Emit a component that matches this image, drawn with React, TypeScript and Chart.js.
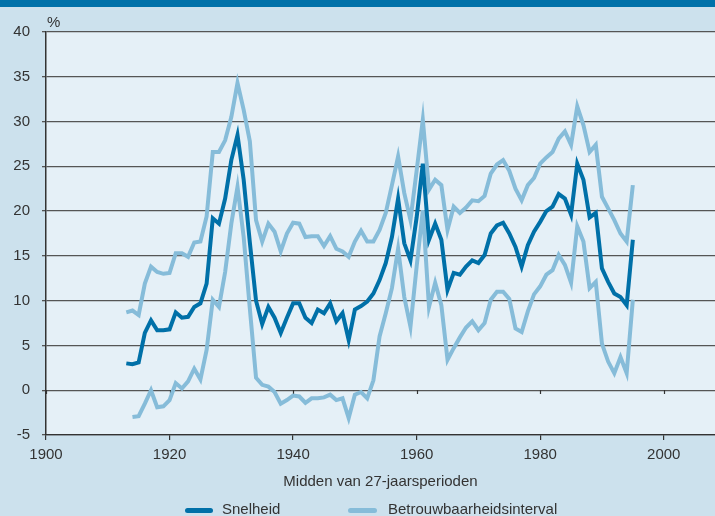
import React, { useEffect, useRef } from 'react';
import { Chart, registerables } from 'chart.js';

Chart.register(...registerables);

// ---- Data ----
const FIRST_YEAR = 1913;
const LAST_YEAR = 1995;
const YEARS: number[] = Array.from({ length: LAST_YEAR - FIRST_YEAR + 1 }, (_, i) => FIRST_YEAR + i);

// Snelheid, 1913..1995
const SNELHEID: number[] = [
  3.0, 2.9, 3.1, 6.4, 7.8, 6.7, 6.7, 6.8, 8.7, 8.1,
  8.2, 9.3, 9.7, 11.9, 19.2, 18.6, 21.4, 25.7, 28.5, 23.5,
  16.5, 10.0, 7.4, 9.3, 8.1, 6.4, 8.1, 9.7, 9.7, 8.1,
  7.5, 9.0, 8.6, 9.7, 7.7, 8.6, 5.6, 9.0, 9.4, 9.9,
  10.8, 12.3, 14.2, 17.1, 21.4, 16.4, 14.5, 19.3, 25.3, 16.8,
  18.6, 16.8, 11.2, 13.1, 12.9, 13.8, 14.5, 14.2, 15.1, 17.5,
  18.4, 18.7, 17.5, 16.0, 13.8, 16.2, 17.7, 18.8, 20.0, 20.5,
  21.9, 21.4, 19.6, 25.3, 23.5, 19.3, 19.8, 13.6, 12.1, 10.8,
  10.4, 9.5, 16.8,
];

// Upper bound of the interval, 1913..1995
const UPPER: number[] = [
  8.7, 8.9, 8.4, 11.9, 13.8, 13.2, 13.0, 13.1, 15.3, 15.3,
  14.9, 16.5, 16.6, 19.4, 26.6, 26.6, 27.9, 30.5, 34.3, 31.3,
  27.8, 19.0, 16.6, 18.6, 17.7, 15.5, 17.5, 18.7, 18.6, 17.1,
  17.2, 17.2, 16.1, 17.2, 15.8, 15.5, 14.9, 16.6, 17.8, 16.6,
  16.6, 17.9, 19.8, 22.9, 26.1, 22.0, 19.0, 24.5, 30.2, 22.4,
  23.5, 22.9, 17.9, 20.5, 19.8, 20.4, 21.2, 21.1, 21.7, 24.2,
  25.2, 25.7, 24.5, 22.5, 21.2, 22.9, 23.7, 25.3, 26.0, 26.6,
  28.1, 28.9, 27.4, 31.7, 29.6, 26.6, 27.4, 21.6, 20.3, 19.0,
  17.5, 16.6, 22.9,
];

// Lower bound of the interval, 1913 (none) then 1914..1995
const LOWER: (number | null)[] = [
  null, -3.0, -2.9, -1.5, 0.0, -1.9, -1.8, -1.1, 0.8, 0.2,
  1.0, 2.4, 1.2, 4.5, 10.1, 9.3, 13.2, 18.6, 22.7, 17.1,
  9.1, 1.4, 0.6, 0.4, -0.2, -1.5, -1.1, -0.6, -0.7, -1.4,
  -0.9, -0.9, -0.8, -0.5, -1.1, -0.9, -3.1, -0.5, -0.2, -0.9,
  1.1, 6.0, 8.6, 11.4, 15.8, 10.4, 7.1, 13.8, 20.1, 9.3,
  12.0, 9.5, 3.4, 4.7, 5.9, 7.0, 7.7, 6.7, 7.5, 10.1,
  11.0, 11.0, 10.2, 6.9, 6.5, 8.8, 10.7, 11.6, 12.9, 13.4,
  15.1, 14.0, 12.0, 18.3, 16.6, 11.4, 12.1, 5.2, 3.2, 1.9,
  3.7, 1.9, 10.1,
];

const X_TICKS: number[] = [1900, 1920, 1940, 1960, 1980, 2000];

const SERIES_LABEL = 'Snelheid';
const BAND_LABEL = 'Betrouwbaarheidsinterval';
const X_TITLE = 'Midden van 27-jaarsperioden';
const Y_UNIT = '%';

// ---- Styles ----
const DARK = '#0070a8';
const LIGHT = '#86bcd9';
const OUTER_BG = '#cce1ed';
const PLOT_BG = '#e5f0f7';
const TOP_BAND = '#0071a9';
const TEXT = '#333333';
const GRID = '#555555';
const FONT = "'Liberation Sans', Arial, sans-serif";

const toPoints = (vals: (number | null)[]) =>
  YEARS.map((yr, i) => ({ x: yr, y: vals[i] }));

export default function App() {
  const ref = useRef<HTMLCanvasElement | null>(null);

  useEffect(() => {
    if (!ref.current) return;

    const decor = {
      id: 'decor',
      beforeDraw(chart: any) {
        const { ctx, width, height, chartArea: a } = chart;
        ctx.save();
        ctx.fillStyle = OUTER_BG;
        ctx.fillRect(0, 0, width, height);
        ctx.fillStyle = TOP_BAND;
        ctx.fillRect(0, 0, width, 7);
        ctx.fillStyle = PLOT_BG;
        ctx.fillRect(a.left, a.top, a.right - a.left, a.bottom - a.top);
        ctx.restore();
      },
      beforeDatasetsDraw(chart: any) {
        const { ctx, chartArea: a, scales } = chart;
        const x = scales.x;
        const y = scales.y;
        ctx.save();
        const y0 = Math.round(y.getPixelForValue(0));
        ctx.strokeStyle = TEXT;
        ctx.lineWidth = 1.2;
        X_TICKS.forEach((t) => {
          const px = Math.round(x.getPixelForValue(t)) + 0.5;
          ctx.beginPath();
          ctx.moveTo(px, y0);
          ctx.lineTo(px, y0 + 4);
          ctx.stroke();
        });
        ctx.font = `15px ${FONT}`;
        ctx.fillStyle = TEXT;
        ctx.textBaseline = 'alphabetic';
        ctx.textAlign = 'left';
        ctx.fillText(Y_UNIT, a.left + 1, 27);
        ctx.restore();
      },
    };

    const chart = new Chart(ref.current, {
      type: 'line',
      data: {
        datasets: [
          {
            label: SERIES_LABEL,
            data: toPoints(SNELHEID),
            borderColor: DARK,
            borderWidth: 4,
            pointRadius: 0,
            tension: 0,
            order: 0,
          },
          {
            label: BAND_LABEL,
            data: toPoints(UPPER),
            borderColor: LIGHT,
            borderWidth: 4,
            pointRadius: 0,
            tension: 0,
            order: 1,
          },
          {
            label: BAND_LABEL,
            data: toPoints(LOWER),
            borderColor: LIGHT,
            borderWidth: 4,
            pointRadius: 0,
            tension: 0,
            spanGaps: false,
            order: 2,
          },
        ],
      },
      options: {
        animation: false,
        responsive: false,
        maintainAspectRatio: false,
        layout: { padding: { top: 32, left: 0, right: 0, bottom: 25 } },
        plugins: {
          legend: { display: false },
          tooltip: { enabled: false },
        },
        scales: {
          x: {
            type: 'linear',
            min: 1900,
            max: 2008.3,
            afterBuildTicks: (s: any) => {
              s.ticks = X_TICKS.map((v) => ({ value: v }));
            },
            ticks: {
              padding: 6,
              maxRotation: 0,
              autoSkip: false,
              color: TEXT,
              font: { family: FONT, size: 15 },
              callback: (v: any) => String(v),
            },
            grid: {
              drawOnChartArea: false,
              drawTicks: true,
              tickLength: 5,
              color: TEXT,
              lineWidth: 1.2,
            },
            border: { display: true, color: TEXT, width: 1.3 },
            title: {
              display: true,
              text: X_TITLE,
              color: TEXT,
              font: { family: FONT, size: 15 },
              padding: { top: 0, bottom: 0 },
            },
            afterFit: (s: any) => {
              s.height = 56;
            },
          },
          y: {
            min: -5,
            max: 40,
            ticks: {
              stepSize: 5,
              padding: 12,
              color: TEXT,
              font: { family: FONT, size: 15 },
              callback: (v: any) => String(v),
            },
            grid: {
              color: GRID,
              lineWidth: 1.3,
              drawTicks: true,
              tickLength: 4,
            },
            border: { display: true, color: TEXT, width: 1.5 },
            afterFit: (s: any) => {
              s.width = 46;
            },
          },
        },
      },
      plugins: [decor],
    });

    return () => chart.destroy();
  }, []);

  const textStyle: React.CSSProperties = {
    position: 'absolute',
    top: 500,
    fontFamily: FONT,
    fontSize: 15,
    lineHeight: '17px',
    color: TEXT,
    whiteSpace: 'nowrap',
  };
  const lineStyle: React.CSSProperties = {
    position: 'absolute',
    top: 508,
    height: 5,
    borderRadius: 2.5,
  };

  return (
    <div
      style={{
        position: 'absolute',
        left: 0,
        top: 0,
        width: 715,
        height: 516,
        overflow: 'hidden',
        background: OUTER_BG,
      }}
    >
      <canvas ref={ref} width={715} height={516} style={{ display: 'block' }} />
      <div style={{ ...lineStyle, left: 185, width: 28, background: DARK }} />
      <span style={{ ...textStyle, left: 222 }}>{SERIES_LABEL}</span>
      <div style={{ ...lineStyle, left: 348, width: 29, background: LIGHT }} />
      <span style={{ ...textStyle, left: 388 }}>{BAND_LABEL}</span>
    </div>
  );
}
